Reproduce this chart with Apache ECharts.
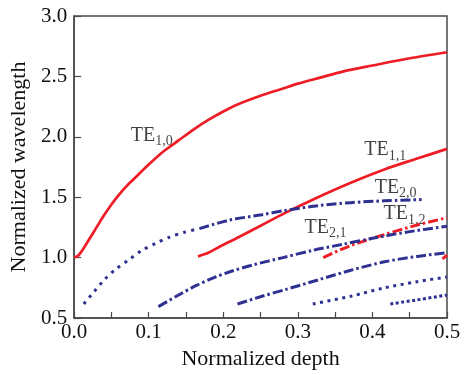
<!DOCTYPE html>
<html>
<head>
<meta charset="utf-8">
<script src="https://cdn.jsdelivr.net/npm/echarts@6/dist/echarts.min.js"></script>
<style>html,body{margin:0;padding:0;background:#fff;}#c{width:464px;height:375px;}</style>
</head>
<body>
<div id="c"></div>
<script>
// Data: [normalized depth, normalized wavelength]
var te10 = [[0,1.0],[0.006,1.02],[0.012,1.07],[0.02,1.15],[0.03,1.25],[0.04,1.35],[0.05,1.44],[0.06,1.52],[0.07,1.59],[0.08,1.65],[0.1,1.77],[0.12,1.88],[0.14,1.97],[0.16,2.06],[0.18,2.14],[0.2,2.21],[0.22,2.27],[0.25,2.34],[0.28,2.40],[0.3,2.44],[0.33,2.49],[0.36,2.54],[0.4,2.59],[0.45,2.65],[0.5,2.70]];
var te11 = [[0.166,1.01],[0.18,1.04],[0.195,1.09],[0.221,1.17],[0.252,1.27],[0.283,1.37],[0.327,1.50],[0.371,1.62],[0.416,1.73],[0.46,1.82],[0.5,1.90]];
var te12 = [[0.334,1.00],[0.371,1.10],[0.416,1.19],[0.46,1.27],[0.5,1.33]];
var te13 = [[0.494,0.99],[0.5,1.02]];
var te20Dotted = [[0.013,0.616],[0.027,0.72],[0.041,0.82],[0.057,0.91],[0.073,0.98],[0.091,1.06],[0.11,1.12],[0.128,1.17],[0.148,1.21],[0.168,1.24]];
var te20 = [[0.168,1.24],[0.208,1.31],[0.252,1.355],[0.283,1.39],[0.327,1.43],[0.371,1.455],[0.416,1.47],[0.466,1.48]];
var te21 = [[0.113,0.594],[0.14,0.69],[0.164,0.77],[0.19,0.84],[0.21,0.885],[0.24,0.94],[0.28,1.0],[0.32,1.06],[0.36,1.11],[0.4,1.16],[0.45,1.215],[0.5,1.26]];
var te22 = [[0.219,0.616],[0.252,0.68],[0.283,0.735],[0.327,0.815],[0.371,0.895],[0.416,0.965],[0.46,1.01],[0.5,1.04]];
var te30 = [[0.32,0.616],[0.371,0.68],[0.416,0.75],[0.46,0.80],[0.5,0.84]];
var te31 = [[0.424,0.616],[0.46,0.65],[0.5,0.69]];
var modeLabels = [
  {name:'1,0', pos:[0.076,2.01]},
  {name:'1,1', pos:[0.389,1.89]},
  {name:'2,0', pos:[0.403,1.58]},
  {name:'1,2', pos:[0.415,1.36]},
  {name:'2,1', pos:[0.309,1.25]}
];
var xTitle = 'Normalized depth';
var yTitle = 'Normalized wavelength';

var RED = '#ee1c25', BLUE = '#2e3192';
var FONT = '"Liberation Serif", "DejaVu Serif", serif';
var DASHDOT = [10,3,2.5,3];

function line(data, color, type, width) {
  return {type:'line', data:data, symbol:'none', smooth:0.3, silent:true,
    lineStyle:{color:color, width:width, type:type, cap:'butt'}};
}

var chart = echarts.init(document.getElementById('c'), null, {renderer:'canvas'});
chart.setOption({
  animation:false,
  backgroundColor:'#fff',
  textStyle:{fontFamily:FONT},
  grid:{left:69, right:17, top:16, bottom:57, show:true, borderColor:'#4a4a4a', borderWidth:1.5},
  xAxis:{type:'value', min:0, max:0.5, interval:0.05,
    name:xTitle, nameLocation:'middle', nameGap:30,
    nameTextStyle:{fontFamily:FONT, fontSize:22, color:'#111'},
    axisLine:{lineStyle:{color:'#4a4a4a', width:1.5}},
    axisTick:{inside:true, length:6, lineStyle:{color:'#4a4a4a', width:1.2}},
    splitLine:{show:false},
    axisLabel:{fontFamily:FONT, fontSize:21, color:'#111', margin:4,
      formatter:function(v){ return Math.round(v*100)%10===0 ? v.toFixed(1) : ''; }}
  },
  yAxis:{type:'value', min:0.5, max:3.0, interval:0.5,
    name:yTitle, nameLocation:'middle', nameGap:43,
    nameTextStyle:{fontFamily:FONT, fontSize:22, color:'#111'},
    axisLine:{lineStyle:{color:'#4a4a4a', width:1.5}},
    axisTick:{inside:true, length:7, lineStyle:{color:'#4a4a4a', width:1.2}},
    splitLine:{show:false},
    axisLabel:{fontFamily:FONT, fontSize:21, color:'#111', margin:7,
      formatter:function(v){ return v.toFixed(1); }}
  },
  series:[
    line(te10, RED, 'solid', 2.7),
    line(te11, RED, 'solid', 2.7),
    line(te12, RED, DASHDOT, 3),
    line(te13, RED, 'solid', 3),
    line(te20Dotted, BLUE, [3,5.3], 3),
    line(te20, BLUE, DASHDOT, 3),
    line(te21, BLUE, DASHDOT, 3),
    line(te22, BLUE, DASHDOT, 3),
    line(te30, BLUE, [3,4.5], 3),
    line(te31, BLUE, [3,2.5], 3),
    {type:'scatter', symbolSize:0, silent:true,
      data: modeLabels.map(function(m){ return {value:m.pos, name:m.name}; }),
      label:{show:true, position:'inside', align:'left', verticalAlign:'middle',
        formatter:function(p){ return '{a|TE}{b|' + p.name + '}'; },
        rich:{
          a:{fontFamily:FONT, fontSize:20, lineHeight:20, color:'#111', verticalAlign:'top'},
          b:{fontFamily:FONT, fontSize:14, lineHeight:14, color:'#111', verticalAlign:'top', padding:[9,0,0,0]}
        }
      }
    }
  ]
});
</script>
</body>
</html>
